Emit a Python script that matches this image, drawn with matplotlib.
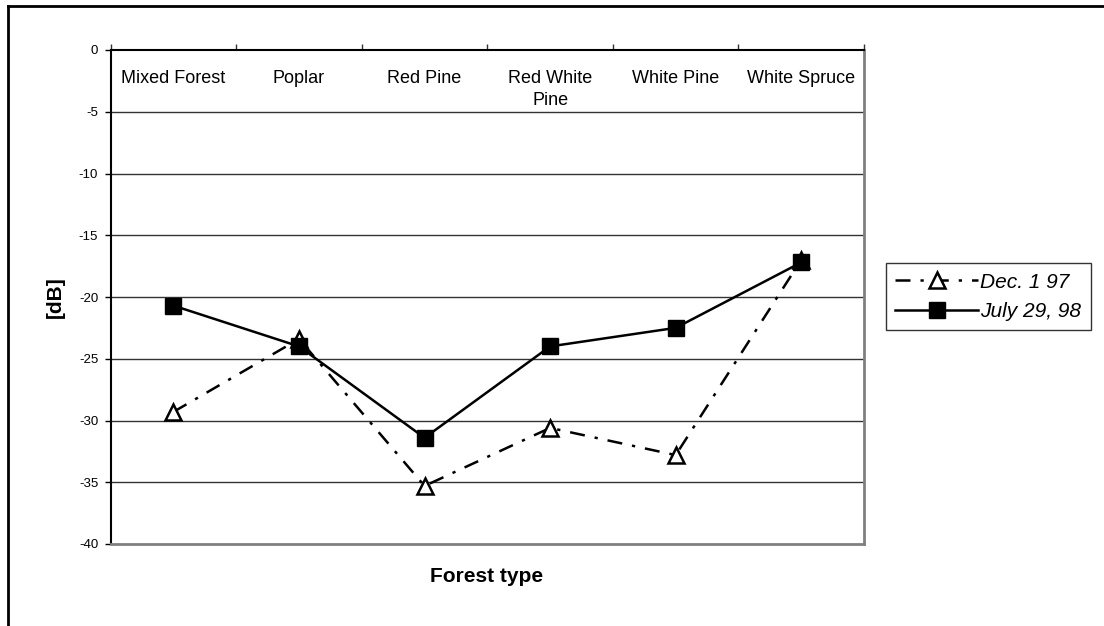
import matplotlib
matplotlib.use("Agg")
import matplotlib.pyplot as plt
from matplotlib.lines import Line2D

plt.rcParams['font.family'] = ['Liberation Sans', 'DejaVu Sans']

forest_types = ["Mixed Forest", "Poplar", "Red Pine", "Red White\nPine", "White Pine", "White Spruce"]
dec_1_97 = [-29.3, -23.4, -35.3, -30.6, -32.8, -17.0]
july_29_98 = [-20.7, -24.0, -31.4, -24.0, -22.5, -17.2]
y_ticks = [0, -5, -10, -15, -20, -25, -30, -35, -40]

W, H = 1104, 626
fig = plt.figure(figsize=(W / 100, H / 100), dpi=100)

# outer chart frame (top and left edges)
fig.add_artist(Line2D([7.5 / W, 7.5 / W], [0, 1 - 6 / H], transform=fig.transFigure,
                      color='black', lw=2))
fig.add_artist(Line2D([7.5 / W, 1], [1 - 6 / H, 1 - 6 / H], transform=fig.transFigure,
                      color='black', lw=2))

left, right, top, bottom = 110.7, 864, 50, 544
ax = fig.add_axes([left / W, 1 - bottom / H, (right - left) / W, (bottom - top) / H])

x = list(range(len(forest_types)))
ax.set_xlim(-0.5, len(forest_types) - 0.5)
ax.set_ylim(-40, 0)

# horizontal gridlines
for v in y_ticks[1:-1]:
    ax.axhline(v, color='#333333', lw=1, zorder=1)

ax.plot(x, dec_1_97, color='black', lw=1.8, linestyle=(0, (6, 4, 1.3, 4)),
        marker='^', markersize=11, markerfacecolor='white', markeredgecolor='black',
        markeredgewidth=1.8, label='Dec. 1 97', zorder=3)
ax.plot(x, july_29_98, color='black', lw=1.8, linestyle='-',
        marker='s', markersize=11, markerfacecolor='black', markeredgecolor='black',
        label='July 29, 98', zorder=4)

# category axis sits at 0 (top), ticks between categories pointing up
ax.xaxis.tick_top()
ax.set_xticks([i - 0.5 for i in range(len(forest_types) + 1)])
ax.set_xticklabels([])
ax.tick_params(axis='x', direction='out', length=4, width=1, color='#333333')
for i, name in enumerate(forest_types):
    ax.annotate(name, xy=(i, 0), xycoords='data', xytext=(0, -14.5),
                textcoords='offset points', ha='center', va='top',
                fontsize=13, linespacing=1.35)

ax.set_yticks(y_ticks)
ax.set_yticklabels([str(v) for v in y_ticks], fontsize=9.5)
ax.tick_params(axis='y', direction='out', length=4, width=1, pad=5)

ax.spines['left'].set_color('black')
ax.spines['left'].set_linewidth(1.5)
ax.spines['top'].set_color('black')
ax.spines['top'].set_linewidth(1.5)
ax.spines['right'].set_color('#808080')
ax.spines['right'].set_linewidth(2)
ax.spines['bottom'].set_color('#808080')
ax.spines['bottom'].set_linewidth(2)

fig.text(487 / W, 1 - 576 / H, "Forest type", ha='center', va='center',
         fontsize=15, fontweight='bold')
fig.text(55 / W, 1 - 297 / H, "[dB]", ha='center', va='center', rotation=90,
         fontsize=15, fontweight='bold')

leg = ax.legend(loc='upper left', bbox_to_anchor=(885.7 / W, 1 - 263.3 / H),
                bbox_transform=fig.transFigure, borderaxespad=0,
                prop={'size': 15, 'style': 'italic'}, frameon=True, fancybox=False,
                edgecolor='black', handlelength=4.0, handletextpad=0.1,
                borderpad=0.45, labelspacing=0.5)
leg.get_frame().set_linewidth(1)

fig.savefig("out.png", dpi=100)
